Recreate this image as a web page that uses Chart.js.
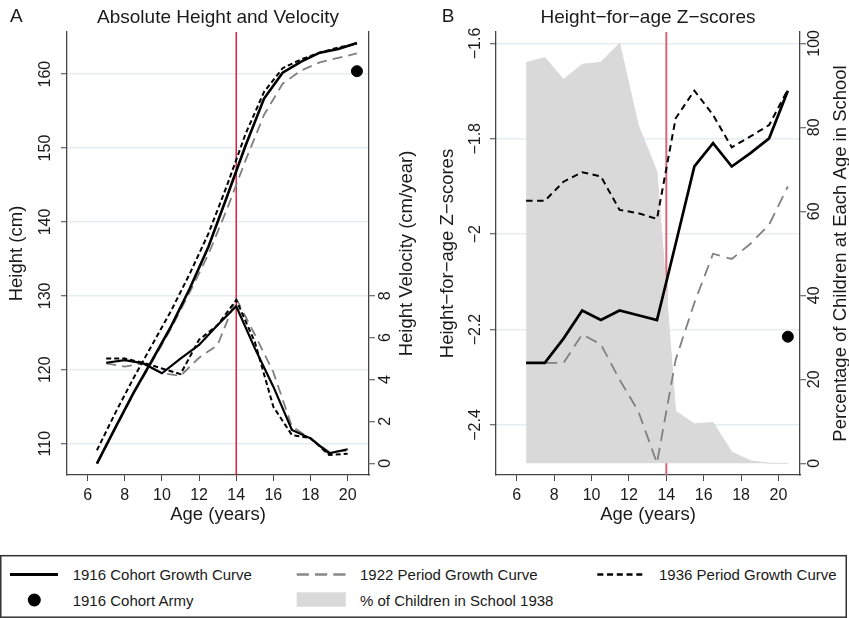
<!DOCTYPE html>
<html>
<head>
<meta charset="utf-8">
<script src="https://cdn.jsdelivr.net/npm/chart.js@4.4.1/dist/chart.umd.min.js"></script>
<style>
html, body { margin: 0; padding: 0; background: #fff; }
#wrap { position: relative; width: 849px; height: 618px; overflow: hidden; }
#panelA { position: absolute; left: 0; top: 0; }
#panelB { position: absolute; left: 425px; top: 0; }
#legend { position: absolute; left: 0; top: 550px; font-family: "Liberation Sans", Arial, sans-serif; }
</style>
</head>
<body>
<div id="wrap">
  <canvas id="panelA" width="425" height="530"></canvas>
  <canvas id="panelB" width="424" height="530"></canvas>
  <svg id="legend" width="849" height="68">
    <rect x="0.75" y="5.7" width="845.5" height="61.5" fill="none" stroke="#333" stroke-width="1.5"/>
    <line x1="10" y1="24.5" x2="58" y2="24.5" stroke="#000" stroke-width="3"/>
    <text x="72.7" y="24.5" font-size="15" fill="#1a1a1a" dominant-baseline="central">1916 Cohort Growth Curve</text>
    <line x1="296.7" y1="24.5" x2="345.5" y2="24.5" stroke="#888" stroke-width="2.5" stroke-dasharray="12.2,6.1"/>
    <text x="360" y="24.5" font-size="15" fill="#1a1a1a" dominant-baseline="central">1922 Period Growth Curve</text>
    <line x1="597.3" y1="24.5" x2="642.3" y2="24.5" stroke="#000" stroke-width="2.5" stroke-dasharray="6,3.75"/>
    <text x="659" y="24.5" font-size="15" fill="#1a1a1a" dominant-baseline="central">1936 Period Growth Curve</text>
    <circle cx="34.3" cy="50" r="6.5" fill="#000"/>
    <text x="72.7" y="50" font-size="15" fill="#1a1a1a" dominant-baseline="central">1916 Cohort Army</text>
    <rect x="296.7" y="42.3" width="49" height="14.4" fill="#d9d9d9"/>
    <text x="360" y="50" font-size="15" fill="#1a1a1a" dominant-baseline="central">% of Children in School 1938</text>
  </svg>
</div>
<script>
// ages (half years) for heights and z-scores, whole years for velocity
const ages = [6.5, 7.5, 8.5, 9.5, 10.5, 11.5, 12.5, 13.5, 14.5, 15.5, 16.5, 17.5, 18.5, 19.5, 20.5];
const velAges = [7, 8, 9, 10, 11, 12, 13, 14, 15, 16, 17, 18, 19, 20];

// panel A - height (cm)
const heightCohort1916 = [107.3, 112.2, 117.0, 121.4, 125.9, 131.0, 136.6, 143.4, 150.3, 156.7, 160.2, 161.7, 162.9, 163.4, 164.2];
const height1922 = [107.3, 112.1, 116.9, 121.2, 125.6, 130.5, 135.6, 141.7, 148.3, 154.5, 158.7, 160.5, 161.6, 162.2, 162.8];
const height1936 = [109.1, 114.2, 119.0, 123.5, 128.0, 133.0, 138.4, 144.9, 151.9, 157.6, 160.8, 162.0, 162.9, 163.6, 164.1];

// panel A - velocity (cm/year)
const velCohort1916 = [4.8, 4.93, 4.77, 4.3, 5.0, 5.65, 6.6, 7.5, 5.5, 3.66, 1.59, 1.19, 0.48, 0.67];
const vel1922 = [4.77, 4.62, 4.77, 4.3, 4.18, 5.04, 5.65, 7.87, 6.15, 4.35, 1.75, 1.19, 0.55, 0.6];
const vel1936 = [5.0, 5.0, 4.8, 4.53, 4.26, 5.9, 6.6, 7.8, 5.8, 2.7, 1.35, 1.2, 0.4, 0.45];

// panel B - height-for-age z-scores
const zCohort1916 = [-2.27, -2.27, -2.219, -2.16, -2.18, -2.16, -2.17, -2.18, -2.02, -1.858, -1.809, -1.858, -1.83, -1.799, -1.699];
const z1922 = [-2.27, -2.27, -2.27, -2.21, -2.231, -2.305, -2.371, -2.48, -2.263, -2.144, -2.041, -2.052, -2.02, -1.98, -1.9];
const z1936 = [-1.93, -1.93, -1.89, -1.87, -1.879, -1.949, -1.956, -1.968, -1.757, -1.699, -1.75, -1.818, -1.795, -1.771, -1.697];
const schoolPct1938 = [95.4, 96.6, 91.4, 95.0, 95.5, 100, 80.5, 69.4, 12.4, 9.4, 9.7, 2.7, 0.6, 0, 0];

// 1916 cohort army measurement
const armyAge = [20.5];
const armyHeight = [160.4];
const armyZ = [-2.215];

const refAge = 14;

// tick values / labels
const ageTicks = [6, 8, 10, 12, 14, 16, 18, 20];
const heightTicks = [110, 120, 130, 140, 150, 160];
const velTicks = [0, 2, 4, 6, 8];
const zTicks = [-2.4, -2.2, -2, -1.8, -1.6];
const zTickLabels = ['\u22122.4', '\u22122.2', '\u22122', '\u22121.8', '\u22121.6'];
const pctTicks = [0, 20, 40, 60, 80, 100];

const FONT = '"Liberation Sans", Arial, sans-serif';
const INK = '#1a1a1a';
const AXIS = '#444';
const GRID = '#e4eef2';
const GRAY = '#808080';
Chart.defaults.font.family = FONT;
Chart.defaults.color = INK;

function pts(xs, ys) { return xs.map((x, i) => ({ x: x, y: ys[i] })); }
function fixTicks(values) { return s => { s.ticks = values.map(v => ({ value: v })); }; }

const decor = {
  id: 'decor',
  beforeDatasetsDraw(chart, args, o) {
    const { ctx, chartArea: a } = chart;
    const x = chart.scales.x.getPixelForValue(refAge);
    ctx.save();
    ctx.strokeStyle = o.refColor;
    ctx.lineWidth = o.refWidth;
    ctx.beginPath(); ctx.moveTo(x, a.top); ctx.lineTo(x, a.bottom); ctx.stroke();
    ctx.restore();
  },
  afterDraw(chart, args, o) {
    const { ctx, chartArea: a } = chart;
    ctx.save();
    ctx.fillStyle = INK;
    ctx.font = '19px ' + FONT;
    ctx.textBaseline = 'alphabetic';
    ctx.textAlign = 'left';
    ctx.fillText(o.letter, o.letterX, 22);
    ctx.textAlign = 'center';
    ctx.fillText(o.title, (a.left + a.right) / 2, 22.5);
    ctx.font = '18.5px ' + FONT;
    ctx.translate(o.rightTitleX, (a.top + a.bottom) / 2);
    ctx.rotate(-Math.PI / 2);
    ctx.textBaseline = 'middle';
    ctx.fillText(o.rightTitle, 0, 0);
    ctx.restore();
  }
};

function xScale() {
  return {
    type: 'linear', position: 'bottom', min: 4.89, max: 21.15,
    afterBuildTicks: fixTicks(ageTicks),
    afterFit: s => { s.height = 55; },
    grid: { drawOnChartArea: false, tickLength: 6, tickColor: AXIS, tickWidth: 1 },
    border: { display: true, color: AXIS, width: 1.3 },
    ticks: { font: { size: 16 }, padding: 4.5, maxRotation: 0, autoSkip: false },
    title: { display: true, text: 'Age (years)', font: { size: 18.5 }, padding: { top: 0, bottom: 4 } }
  };
}

function yScale(pos, min, max, values, width, pad, onArea, title, titlePad, labels) {
  const sc = {
    type: 'linear', position: pos, min: min, max: max,
    afterBuildTicks: fixTicks(values),
    afterFit: s => { s.width = width; },
    grid: { drawOnChartArea: onArea, color: GRID, lineWidth: 1.5, tickLength: 6, tickColor: AXIS, tickWidth: 1 },
    border: { display: true, color: AXIS, width: 1.3 },
    ticks: { font: { size: 16 }, minRotation: 90, maxRotation: 90, crossAlign: 'center', padding: pad, autoSkip: false },
    title: title ? { display: true, text: title, font: { size: 18.5 }, padding: { top: titlePad, bottom: 0 } } : { display: false }
  };
  if (labels) sc.ticks.callback = v => labels[values.indexOf(v)];
  return sc;
}

function lineSet(data, axis, color, width, dash) {
  return { type: 'line', data: data, yAxisID: axis, borderColor: color, borderWidth: width,
           borderDash: dash, pointRadius: 0, tension: 0, fill: false };
}

const common = {
  responsive: false, animation: false, devicePixelRatio: 1,
  layout: { padding: { top: 32, left: 0, right: 0, bottom: 0 } }
};

new Chart(document.getElementById('panelA'), {
  type: 'line',
  data: {
    datasets: [
      { type: 'scatter', data: pts(armyAge, armyHeight), yAxisID: 'y', pointRadius: 5.5,
        backgroundColor: '#000', borderColor: '#000', showLine: false },
      lineSet(pts(ages, heightCohort1916), 'y', '#000', 2.6, []),
      lineSet(pts(ages, height1936), 'y', '#000', 2, [5, 3]),
      lineSet(pts(ages, height1922), 'y', GRAY, 1.8, [10, 6]),
      lineSet(pts(velAges, velCohort1916), 'y2', '#000', 2.2, []),
      lineSet(pts(velAges, vel1936), 'y2', '#000', 2, [5, 3]),
      lineSet(pts(velAges, vel1922), 'y2', GRAY, 1.8, [10, 6])
    ]
  },
  options: Object.assign({}, common, {
    plugins: {
      legend: { display: false }, tooltip: { enabled: false },
      decor: { letter: 'A', letterX: 10, title: 'Absolute Height and Velocity',
               rightTitle: 'Height Velocity (cm/year)', rightTitleX: 406.5,
               refColor: '#d9001b', refWidth: 1.3 }
    },
    scales: {
      x: xScale(),
      y: yScale('left', 105.76, 165.7, heightTicks, 67, 2.5, true, 'Height (cm)', 5.4),
      y2: yScale('right', -0.56, 20.6, velTicks, 56, 6.5, false, null, 0)
    }
  }),
  plugins: [decor]
});

new Chart(document.getElementById('panelB'), {
  type: 'line',
  data: {
    datasets: [
      { type: 'scatter', data: pts(armyAge, armyZ), yAxisID: 'y', pointRadius: 5.5,
        backgroundColor: '#000', borderColor: '#000', showLine: false },
      lineSet(pts(ages, zCohort1916), 'y', '#000', 2.7, []),
      lineSet(pts(ages, z1936), 'y', '#000', 2, [6.5, 4.5]),
      lineSet(pts(ages, z1922), 'y', GRAY, 1.8, [12, 7]),
      { type: 'line', data: pts(ages, schoolPct1938), yAxisID: 'y2', borderColor: '#d9d9d9',
        borderWidth: 1, backgroundColor: '#d9d9d9', fill: 'origin', pointRadius: 0, tension: 0 }
    ]
  },
  options: Object.assign({}, common, {
    plugins: {
      legend: { display: false }, tooltip: { enabled: false },
      decor: { letter: 'B', letterX: 16.7, title: 'Height\u2212for\u2212age Z\u2212scores',
               rightTitle: 'Percentage of Children at Each Age in School', rightTitleX: 415.5,
               refColor: '#d6697b', refWidth: 2 }
    },
    scales: {
      x: xScale(),
      y: yScale('left', -2.505, -1.576, zTicks, 71, -1, true, 'Height\u2212for\u2212age Z\u2212scores', 11.9, zTickLabels),
      y2: yScale('right', -2.79, 102.7, pctTicks, 49, -4.3, false, null, 0)
    }
  }),
  plugins: [decor]
});
</script>
</body>
</html>
